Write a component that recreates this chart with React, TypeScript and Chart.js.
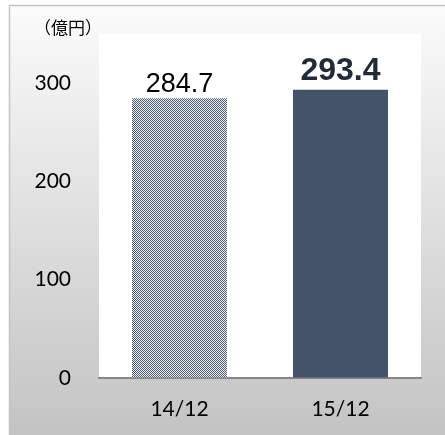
import React, { useEffect, useRef } from "react";
import { Chart, registerables } from "chart.js";

Chart.register(...registerables);

const categories = ["14/12", "15/12"];
const values = [284.7, 293.4];
const valueLabels = ["284.7", "293.4"];
const yTicks = [0, 100, 200, 300];
const unitLabel = "（億円）";

function makePattern(): CanvasPattern | string {
  const c = document.createElement("canvas");
  c.width = 2;
  c.height = 2;
  const g = c.getContext("2d");
  if (!g) return "#9da5b1";
  g.fillStyle = "#eef0f2";
  g.fillRect(0, 0, 2, 2);
  g.fillStyle = "#4b5a72";
  g.fillRect(0, 0, 1, 1);
  g.fillRect(1, 1, 1, 1);
  const p = g.createPattern(c, "repeat");
  return p || "#9da5b1";
}

const backgroundPlugin = {
  id: "bgFrame",
  beforeDraw(chart: any) {
    const ctx = chart.ctx;
    const W = chart.width;
    const H = chart.height;
    ctx.save();
    ctx.fillStyle = "#ffffff";
    ctx.fillRect(0, 0, W, H);
    const grad = ctx.createLinearGradient(0, 6, 0, H);
    grad.addColorStop(0, "#fbfbfb");
    grad.addColorStop(1, "#c3c3c3");
    ctx.fillStyle = grad;
    ctx.fillRect(10, 6, W - 10, H - 6);
    ctx.strokeStyle = "#c4c4c4";
    ctx.lineWidth = 1.5;
    ctx.beginPath();
    ctx.moveTo(9.5, H);
    ctx.lineTo(9.5, 5.5);
    ctx.lineTo(W, 5.5);
    ctx.stroke();
    const a = chart.chartArea;
    ctx.fillStyle = "#ffffff";
    ctx.fillRect(a.left, a.top, a.right - a.left, a.bottom - a.top);
    ctx.fillStyle = "#000000";
    ctx.font = "17px 'Noto Sans CJK JP'";
    ctx.textAlign = "center";
    ctx.textBaseline = "middle";
    ctx.fillText(unitLabel, 68, 28);
    ctx.restore();
  },
};

const labelFonts = ["27px 'Liberation Sans'", "bold 32px 'Liberation Sans'"];
const labelColors = ["#000000", "#212a38"];
const labelGaps = [6, 10];

const valueLabelPlugin = {
  id: "valueLabels",
  afterDatasetsDraw(chart: any) {
    const ctx = chart.ctx;
    const meta = chart.getDatasetMeta(0);
    ctx.save();
    ctx.textAlign = "center";
    ctx.textBaseline = "alphabetic";
    meta.data.forEach((bar: any, i: number) => {
      ctx.font = labelFonts[i];
      ctx.fillStyle = labelColors[i];
      ctx.fillText(valueLabels[i], bar.x, bar.y - labelGaps[i]);
    });
    ctx.restore();
  },
};

export default function App() {
  const ref = useRef<HTMLCanvasElement | null>(null);
  useEffect(() => {
    if (!ref.current) return;
    const pattern = makePattern();
    const chart = new Chart(ref.current, {
      type: "bar",
      data: {
        labels: categories,
        datasets: [
          {
            data: values,
            backgroundColor: [pattern as any, "#44536a"],
            borderWidth: 0,
            barPercentage: 0.59,
            categoryPercentage: 1,
          },
        ],
      },
      options: {
        animation: false,
        responsive: false,
        devicePixelRatio: 1,
        layout: { padding: { left: 0, top: 34, right: 24, bottom: 0 } },
        plugins: {
          legend: { display: false },
          tooltip: { enabled: false },
        },
        scales: {
          x: {
            grid: { display: false, drawTicks: false },
            border: { display: true, color: "#868686", width: 2 },
            ticks: {
              color: "#000000",
              font: { family: "Lato", size: 21 },
              padding: 19,
            },
            afterFit(scale: any) {
              scale.height = 57;
            },
          },
          y: {
            min: 0,
            max: 350,
            grid: {
              display: true,
              drawOnChartArea: false,
              drawTicks: true,
              tickLength: 26,
              tickColor: "rgba(0,0,0,0)",
            },
            border: { display: false },
            ticks: {
              color: "#000000",
              font: { family: "Lato", size: 21 },
              padding: 2,
            },
            afterBuildTicks(scale: any) {
              scale.ticks = yTicks.map((v) => ({ value: v }));
            },
            afterFit(scale: any) {
              scale.width = 99;
            },
          },
        },
      },
      plugins: [backgroundPlugin, valueLabelPlugin],
    });
    return () => chart.destroy();
  }, []);
  return (
    <div style={{ position: "absolute", left: 0, top: 0, width: 445, height: 435 }}>
      <canvas ref={ref} width={445} height={435} style={{ display: "block" }} />
    </div>
  );
}
